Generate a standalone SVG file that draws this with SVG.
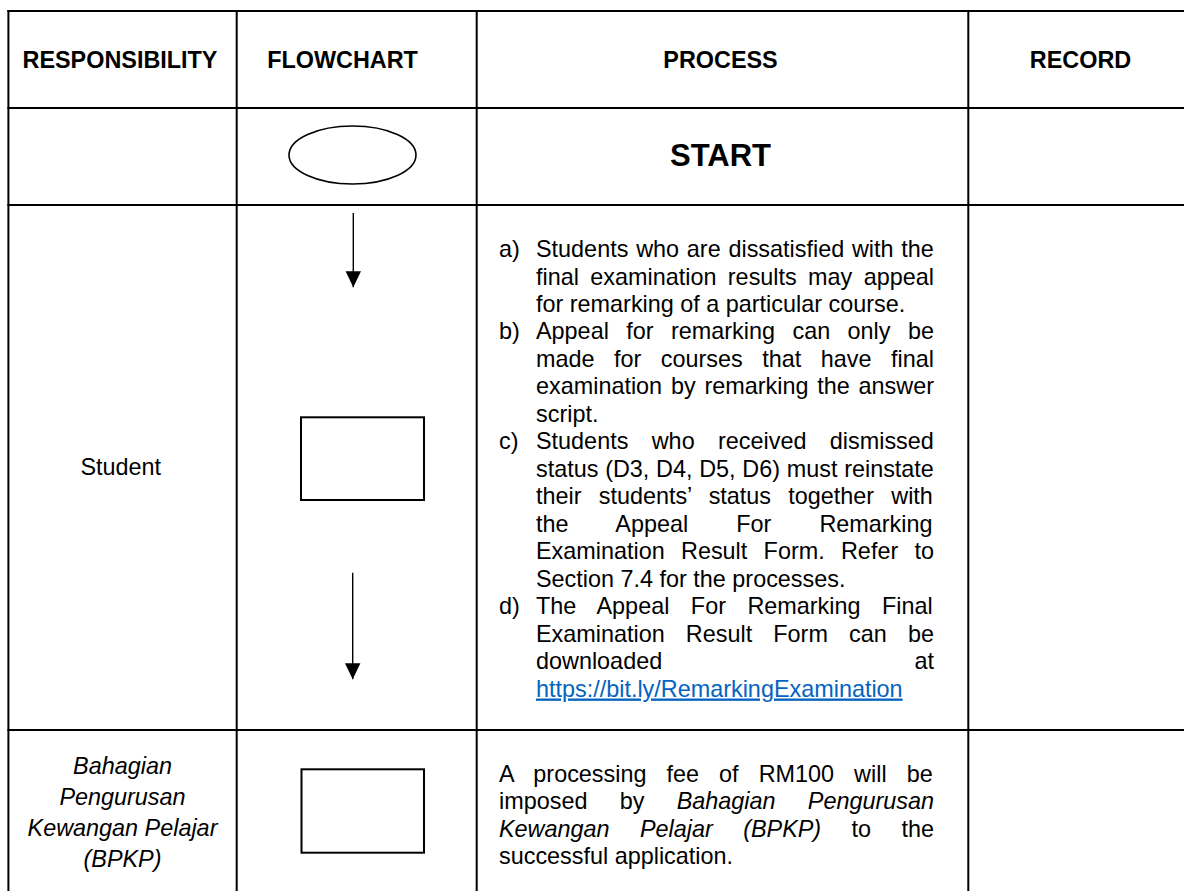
<svg xmlns="http://www.w3.org/2000/svg" width="1184" height="891" viewBox="0 0 1184 891">
<style>
.grid{stroke:#000;stroke-width:2;fill:none}
.shape{stroke:#000;stroke-width:2;fill:#fff}
.conn{stroke:#000;stroke-width:1.4;fill:none}
text{font-family:"Liberation Sans",Arial,Helvetica,sans-serif;font-size:23.4px;fill:#000}
.hd{font-weight:bold}
.start{font-weight:bold;font-size:31px}
.it{font-style:italic}
.link{fill:#0563C1;text-decoration:underline}
</style>
<defs>
<marker id="ah" markerUnits="userSpaceOnUse" markerWidth="16" markerHeight="16" viewBox="0 0 16 15.4" refX="16" refY="7.7" orient="auto">
<path d="M0,0 L16,7.7 L0,15.4 Z" fill="#000"/>
</marker>
</defs>
<rect x="0" y="0" width="1184" height="891" fill="#fff"/>
<g id="table">
<line class="grid" x1="7.4" y1="11" x2="1184" y2="11"/>
<line class="grid" x1="7.4" y1="108" x2="1184" y2="108"/>
<line class="grid" x1="7.4" y1="205" x2="1184" y2="205"/>
<line class="grid" x1="7.4" y1="730" x2="1184" y2="730"/>
<line class="grid" x1="8.4" y1="10" x2="8.4" y2="891"/>
<line class="grid" x1="236.7" y1="10" x2="236.7" y2="891"/>
<line class="grid" x1="476.7" y1="10" x2="476.7" y2="891"/>
<line class="grid" x1="968.3" y1="10" x2="968.3" y2="891"/>
</g>
<g id="headers">
<text class="hd" x="120" y="67.5" text-anchor="middle">RESPONSIBILITY</text>
<text class="hd" x="342.5" y="67.5" text-anchor="middle">FLOWCHART</text>
<text class="hd" x="720.5" y="67.5" text-anchor="middle">PROCESS</text>
<text class="hd" x="1080.5" y="67.5" text-anchor="middle">RECORD</text>
</g>
<g id="start-node">
<ellipse cx="352.5" cy="155" rx="63.5" ry="29" fill="#fff" stroke="#000" stroke-width="1.6"/>
<text class="start" x="720.5" y="166" text-anchor="middle">START</text>
</g>
<g id="student-node">
<text x="120.7" y="474.7" text-anchor="middle">Student</text>
<rect class="shape" x="301" y="417.3" width="123" height="82.7"/>
<text x="499" y="257">a)</text>
<text x="536" y="257" word-spacing="1.3">Students who are dissatisfied with the</text>
<text x="536" y="284.5" word-spacing="4.9">final examination results may appeal</text>
<text x="536" y="311.9">for remarking of a particular course.</text>
<text x="499" y="339.4">b)</text>
<text x="536" y="339.4" word-spacing="10.94">Appeal for remarking can only be</text>
<text x="536" y="366.9" word-spacing="13">made for courses that have final</text>
<text x="536" y="394.4" word-spacing="2.3">examination by remarking the answer</text>
<text x="536" y="421.8">script.</text>
<text x="499" y="449.3">c)</text>
<text x="536" y="449.3" word-spacing="16.9">Students who received dismissed</text>
<text x="536" y="476.8" word-spacing="0.23">status (D3, D4, D5, D6) must reinstate</text>
<text x="536" y="504.2" word-spacing="10.7">their students’ status together with</text>
<text x="536" y="531.7" word-spacing="41.6">the Appeal For Remarking</text>
<text x="536" y="559.2" word-spacing="9.8">Examination Result Form. Refer to</text>
<text x="536" y="586.6">Section 7.4 for the processes.</text>
<text x="499" y="614.1">d)</text>
<text x="536" y="614.1" word-spacing="15">The Appeal For Remarking Final</text>
<text x="536" y="641.6" word-spacing="14.65">Examination Result Form can be</text>
<text x="536" y="669.1">downloaded</text>
<text x="934" y="669.1" text-anchor="end">at</text>
<text class="link" x="536" y="696.5">https://bit.ly/RemarkingExamination</text>
</g>
<g id="bpkp-node">
<text class="it" x="122.5" y="774" text-anchor="middle">Bahagian</text>
<text class="it" x="122.5" y="805" text-anchor="middle">Pengurusan</text>
<text class="it" x="122.5" y="836" text-anchor="middle">Kewangan Pelajar</text>
<text class="it" x="122.5" y="867" text-anchor="middle">(BPKP)</text>
<rect class="shape" x="301.5" y="769.3" width="122.5" height="83.4"/>
<text x="499" y="781.7" word-spacing="13.55">A processing fee of RM100 will be</text>
<text x="499" y="809.2" word-spacing="25.8">imposed by <tspan class="it">Bahagian Pengurusan</tspan></text>
<text x="499" y="836.6" word-spacing="23.9"><tspan class="it">Kewangan Pelajar (BPKP)</tspan> to the</text>
<text x="499" y="864.1">successful application.</text>
</g>
<g id="connectors">
<line class="conn" x1="353.3" y1="213" x2="353.3" y2="287.3" marker-end="url(#ah)"/>
<line class="conn" x1="352.7" y1="572.7" x2="352.7" y2="679.3" marker-end="url(#ah)"/>
</g>
</svg>
